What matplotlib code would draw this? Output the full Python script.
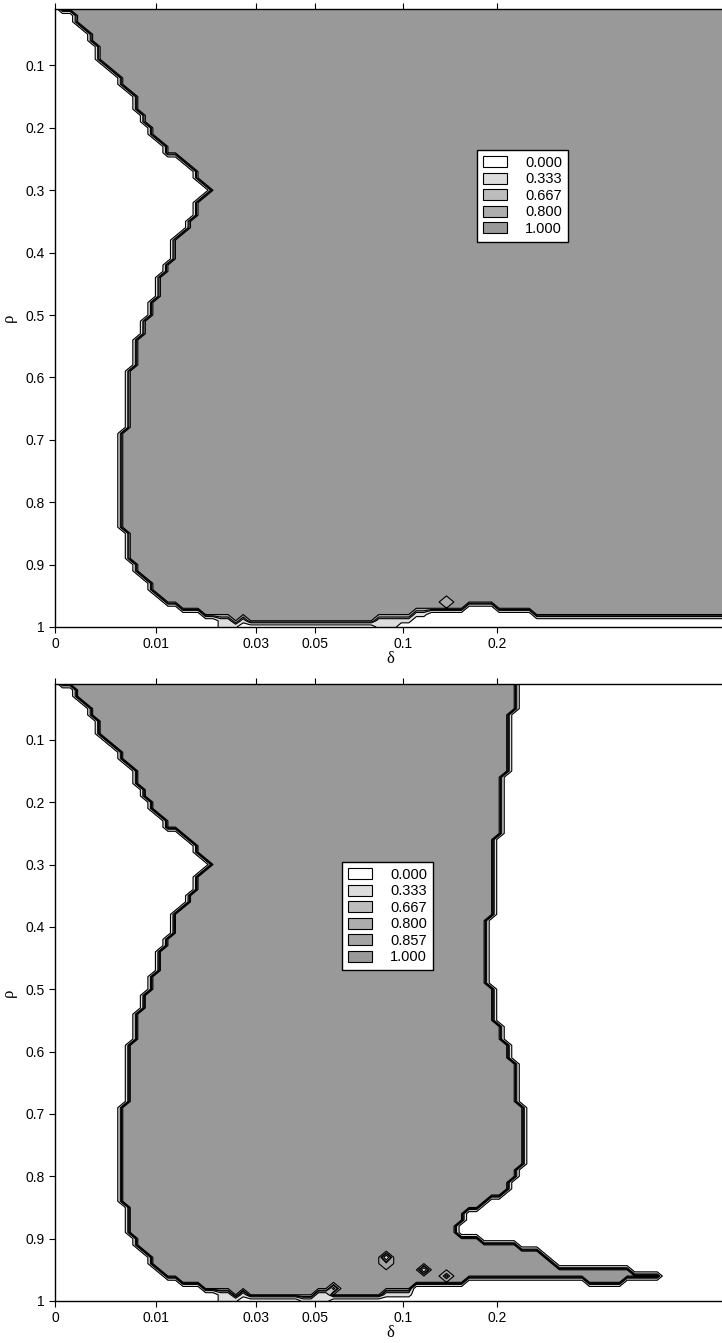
import numpy as np
import matplotlib.pyplot as plt
from matplotlib.patches import Patch

# sampling grid: rho rows and delta columns (columns evenly spaced on the plotted axis)
rho = np.round(np.arange(1, 101) * 0.01, 2)
delta = (101.0 ** np.linspace(0, 1, 90) - 1) / 100

# delta where success starts, one value per rho row (same in both panels)
left_edge = [
    0.0003, 0.0016, 0.0016, 0.0021, 0.0025, 0.0025, 0.0034, 0.0035, 0.0035, 0.0038,
    0.0046, 0.0052, 0.0055, 0.0062, 0.0068, 0.0072, 0.0076, 0.0078, 0.0084, 0.0088,
    0.0095, 0.0105, 0.0114, 0.0117, 0.0130, 0.0143, 0.0155, 0.0161, 0.0175, 0.0186,
    0.0173, 0.0167, 0.0167, 0.0155, 0.0147, 0.0145, 0.0132, 0.0128, 0.0128, 0.0127,
    0.0119, 0.0117, 0.0112, 0.0106, 0.0106, 0.0099, 0.0099, 0.0094, 0.0094, 0.0089,
    0.0085, 0.0080, 0.0079, 0.0076, 0.0076, 0.0076, 0.0076, 0.0072, 0.0066, 0.0066,
    0.0066, 0.0066, 0.0066, 0.0066, 0.0066, 0.0066, 0.0066, 0.0061, 0.0057, 0.0057,
    0.0057, 0.0057, 0.0057, 0.0057, 0.0057, 0.0057, 0.0057, 0.0057, 0.0057, 0.0057,
    0.0057, 0.0057, 0.0057, 0.0057, 0.0066, 0.0066, 0.0066, 0.0066, 0.0066, 0.0076,
    0.0076, 0.0082, 0.0088, 0.0093, 0.0102, 0.0117, 0.0141, 0.0173, 0.0207, 0.0207,
]

# panel 1: no right edge
right_edge1 = [1.0] * 100

# panel 2: delta where success stops, one value per rho row
right_edge2 = [
    0.227, 0.227, 0.227, 0.227, 0.227, 0.220, 0.216, 0.216, 0.216, 0.216,
    0.216, 0.216, 0.216, 0.216, 0.216, 0.206, 0.206, 0.206, 0.206, 0.206,
    0.206, 0.206, 0.206, 0.206, 0.206, 0.203, 0.202, 0.201, 0.200, 0.200,
    0.199, 0.198, 0.197, 0.196, 0.195, 0.195, 0.194, 0.193, 0.192, 0.192,
    0.191, 0.190, 0.190, 0.189, 0.189, 0.189, 0.190, 0.191, 0.192, 0.193,
    0.194, 0.197, 0.199, 0.201, 0.203, 0.206, 0.208, 0.208, 0.217, 0.217,
    0.217, 0.228, 0.228, 0.228, 0.233, 0.239, 0.239, 0.239, 0.245, 0.250,
    0.250, 0.250, 0.250, 0.250, 0.250, 0.250, 0.250, 0.241, 0.238, 0.231,
    0.220, 0.216, 0.206, 0.190, 0.174, 0.163, 0.156, 0.151, 0.150, 0.176,
    0.235, 0.278, 0.290, 0.303, 0.516, 0.630, 0.490, 1.0, 1.0, 1.0,
]

# bottom edge: from each delta on, the last rho row that is fully successful
bottom_from1 = [0.0, 0.0207, 0.0236, 0.0260, 0.0275, 0.082, 0.098, 0.1055, 0.1217, 0.158, 0.194, 0.259]
bottom_rho1 = [0.98, 0.98, 0.99, 0.98, 0.99, 0.98, 0.98, 0.97, 0.97, 0.96, 0.97, 0.98]

bottom_from2 = [0.0, 0.0207, 0.0236, 0.0260, 0.0275, 0.0446, 0.0506, 0.0563, 0.084,
                0.1055, 0.1217, 0.158, 0.379, 0.49]
bottom_rho2 = [0.98, 0.98, 0.99, 0.98, 0.99, 0.99, 0.98, 0.99, 0.98,
               0.97, 0.97, 0.96, 0.97, 0.96]

# partial success cells near the bottom: row, delta from, delta to, value
part_rho1 = [0.99, 1.00, 1.00, 0.99, 0.99, 1.00, 0.99, 0.98]
part_from1 = [0.0207, 0.0207, 0.0236, 0.0260, 0.082, 0.082, 0.098, 0.1055]
part_to1 = [0.0236, 0.0236, 0.0260, 0.0275, 0.098, 0.098, 0.1055, 0.1217]
part_val1 = [0.5, 0.5, 0.4, 0.5, 0.5, 0.5, 0.5, 0.5]

part_rho2 = [0.99, 1.00, 1.00, 0.99, 1.00, 0.99, 1.00, 0.99]
part_from2 = [0.0207, 0.0207, 0.0236, 0.0260, 0.0446, 0.0506, 0.0506, 0.084]
part_to2 = [0.0236, 0.0236, 0.0260, 0.0275, 0.0506, 0.0563, 0.0563, 0.1055]
part_val2 = [0.5, 0.5, 0.4, 0.5, 0.5, 0.5, 0.5, 0.5]

# single lower cells inside the successful region
blob_delta1 = [0.142]
blob_rho1 = [0.96]
blob_val1 = [0.95]

blob_delta2 = [0.087, 0.090, 0.115, 0.142, 0.059]
blob_rho2 = [0.93, 0.94, 0.95, 0.96, 0.98]
blob_val2 = [0.5, 0.9, 0.5, 0.75, 0.6]

# legend levels and their grey shades
levels1 = [0.0, 0.333, 0.667, 0.8, 1.0]
shades1 = ['#ffffff', '#dddddd', '#bdbdbd', '#adadad', '#999999']
levels2 = [0.0, 0.333, 0.667, 0.8, 0.857, 1.0]
shades2 = ['#ffffff', '#dddddd', '#bdbdbd', '#adadad', '#a4a4a4', '#999999']

xticks = [0, 0.01, 0.03, 0.05, 0.1, 0.2]
xtick_labels = ['0', '0.01', '0.03', '0.05', '0.1', '0.2']
yticks = [0.1, 0.2, 0.3, 0.4, 0.5, 0.6, 0.7, 0.8, 0.9, 1.0]
ytick_labels = ['0.1', '0.2', '0.3', '0.4', '0.5', '0.6', '0.7', '0.8', '0.9', '1']


def build_grid(left, right, bottom_from, bottom_rho, prho, pfrom, pto, pval, bd, br, bv):
    D, R = np.meshgrid(delta, rho)
    left = np.array(left)[:, None]
    right = np.array(right)[:, None]
    Z = ((D >= left) & (D <= right)).astype(float)
    idx = np.searchsorted(bottom_from, delta, side='right') - 1
    cut = np.array(bottom_rho)[idx]
    Z[R > cut[None, :] + 1e-9] = 0.0
    for r, a, b, v in zip(prho, pfrom, pto, pval):
        mask = np.isclose(R, r) & (D >= a) & (D < b)
        Z[mask] = v
    for d, r, v in zip(bd, br, bv):
        i = np.argmin(np.abs(rho - r))
        j = np.argmin(np.abs(delta - d))
        Z[i, j] = v
    return Z


def fwd(d):
    return np.log1p(100 * np.clip(d, 0, None)) / np.log(101)


def inv(u):
    return (101.0 ** u - 1) / 100


def draw_panel(ax, Z, levels, shades, legend_xy):
    edges = levels[:-1] + [0.999, 1.0]
    ax.set_xscale('function', functions=(fwd, inv))
    ax.contourf(delta, rho, Z, levels=edges, colors=shades)
    ax.contour(delta, rho, Z, levels=edges[1:-1], colors='black', linewidths=0.8)
    ax.set_xlim(0, 1)
    ax.set_ylim(1.0, 0.01)
    ax.set_xticks(xticks)
    ax.set_xticklabels(xtick_labels)
    ax.set_yticks(yticks)
    ax.set_yticklabels(ytick_labels)
    ax.minorticks_off()
    ax.tick_params(direction='out', length=4, width=0.8, top=True, labelsize=10)
    ax.set_xlabel('δ', family='Liberation Serif', fontsize=12, labelpad=0)
    ax.set_ylabel('ρ', family='Liberation Serif', fontsize=12, labelpad=6)
    ax.spines['right'].set_visible(False)
    for s in ['left', 'top', 'bottom']:
        ax.spines[s].set_linewidth(1.0)
    handles = [Patch(facecolor=c, edgecolor='black', linewidth=0.8) for c in shades]
    labels = [f'{v:.3f}' for v in levels]
    leg = ax.legend(handles, labels, loc='upper left', bbox_to_anchor=legend_xy,
                    frameon=True, fancybox=False, edgecolor='black', framealpha=1,
                    fontsize=10.5, handlelength=1.65, handleheight=0.8,
                    handletextpad=1.25, labelspacing=0.17, borderpad=0.4,
                    borderaxespad=0)
    leg.get_frame().set_linewidth(1.0)


plt.rcParams['font.family'] = ['Liberation Sans', 'DejaVu Sans']

Z1 = build_grid(left_edge, right_edge1, bottom_from1, bottom_rho1,
                part_rho1, part_from1, part_to1, part_val1,
                blob_delta1, blob_rho1, blob_val1)
Z2 = build_grid(left_edge, right_edge2, bottom_from2, bottom_rho2,
                part_rho2, part_from2, part_to2, part_val2,
                blob_delta2, blob_rho2, blob_val2)

fig = plt.figure(figsize=(7.22, 13.43), dpi=100)
ax1 = fig.add_axes([55 / 722, 1 - 627 / 1343, 670 / 722, 617.7 / 1343])
ax2 = fig.add_axes([55 / 722, 1 - 1301 / 1343, 670 / 722, 617.3 / 1343])

draw_panel(ax1, Z1, levels1, shades1, (0.63, 0.772))
draw_panel(ax2, Z2, levels2, shades2, (0.428, 0.711))

fig.savefig('out.png', dpi=100)
